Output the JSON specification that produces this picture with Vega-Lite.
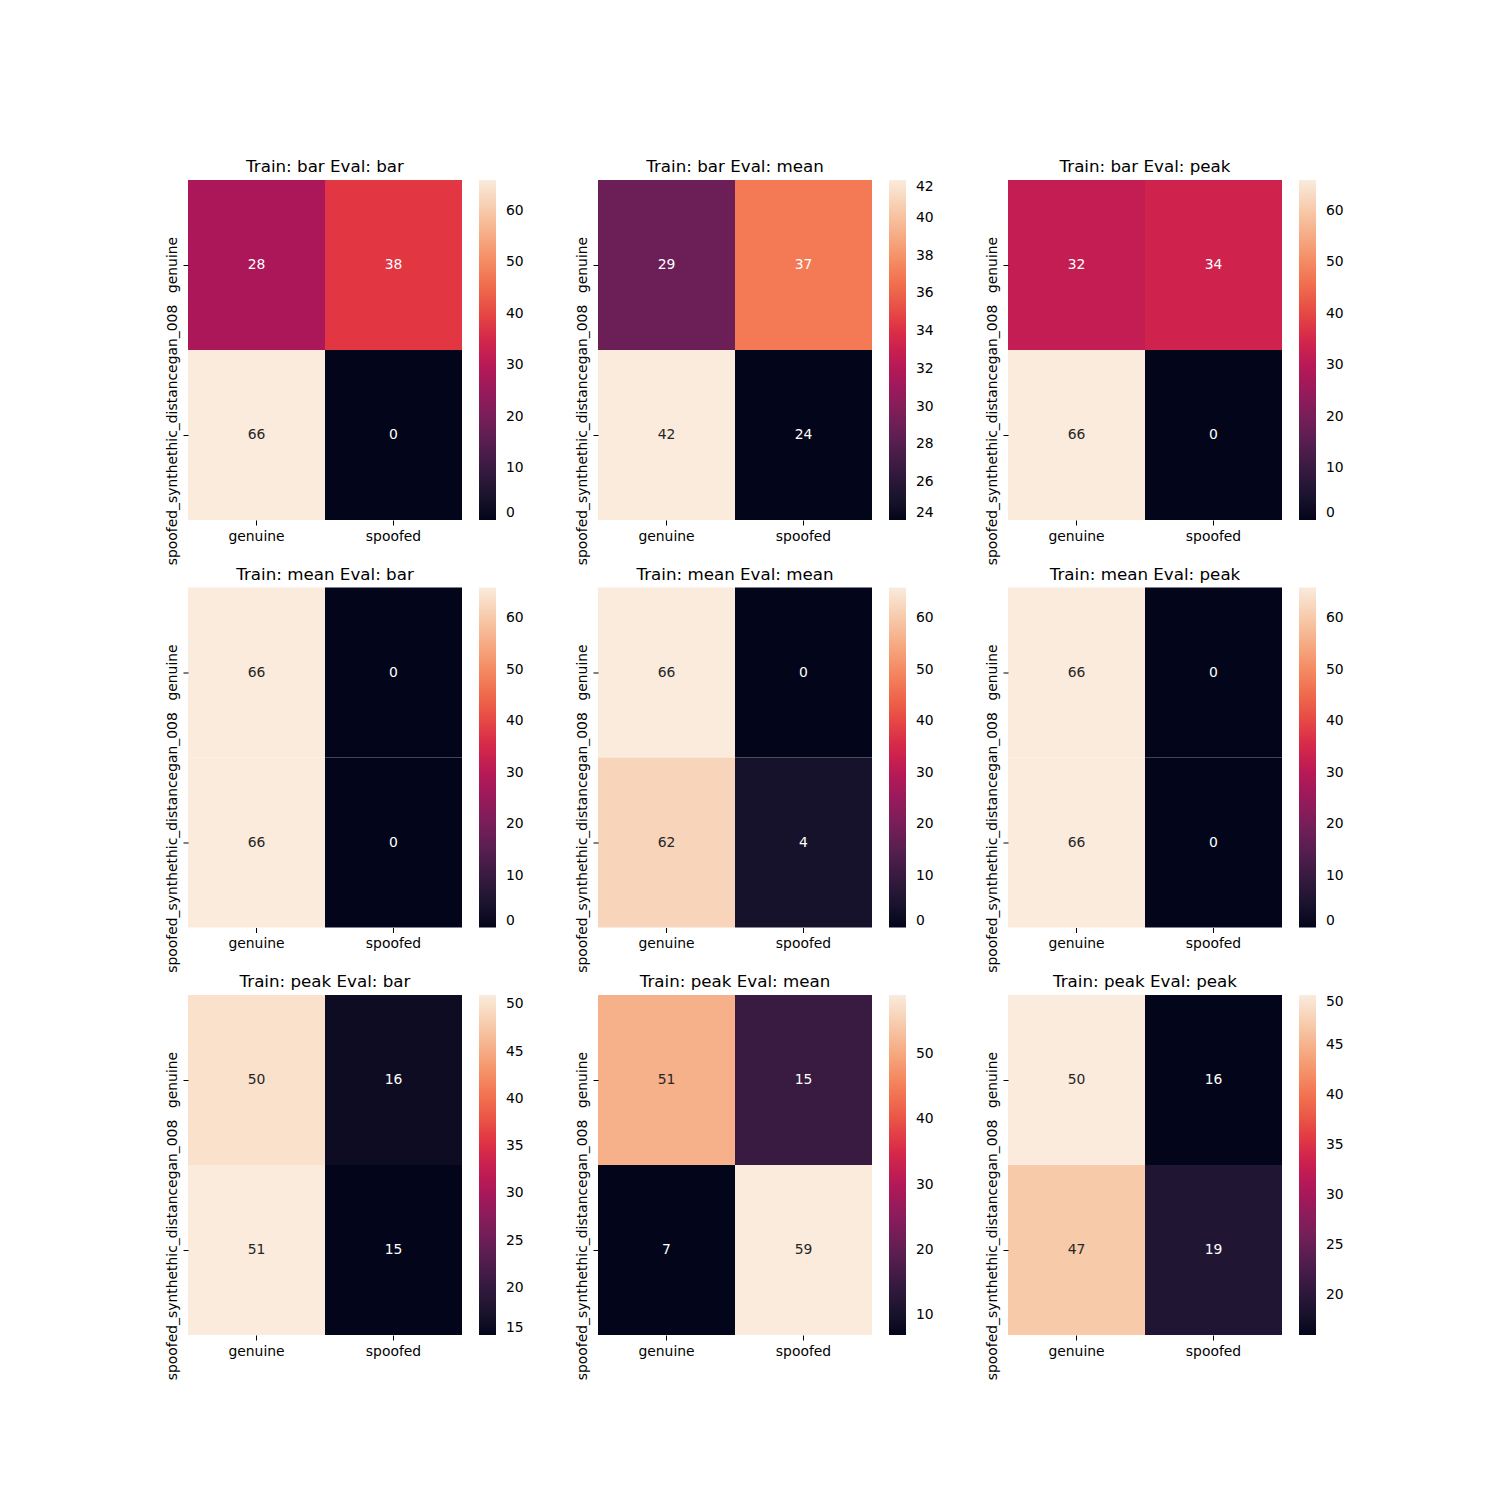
{
  "$schema": "https://vega.github.io/schema/vega-lite/v6.json",
  "background": "white",
  "padding": {"left": 164, "top": 159, "right": 5, "bottom": 5},
  "config": {
    "view": {"stroke": null},
    "font": "DejaVu Sans",
    "title": {"font": "DejaVu Sans", "fontSize": 16.7, "fontWeight": "normal", "color": "#000000", "offset": 4},
    "axis": {"labelFont": "DejaVu Sans", "labelFontSize": 13.9, "labelColor": "#000000", "tickColor": "#000000", "tickSize": 5, "tickWidth": 1, "domain": false, "grid": false, "labelPadding": 4, "title": null, "labelLimit": 500},
    "legend": {"labelFont": "DejaVu Sans", "labelFontSize": 13.9, "labelColor": "#000000", "gradientLength": 340, "gradientThickness": 17, "gradientStrokeWidth": 0, "offset": 17, "labelOverlap": false, "labelBaseline": "middle", "padding": 0},
    "text": {"font": "DejaVu Sans", "fontSize": 13.9}
  },
  "datasets": {
    "cm": [
      {"train": "bar", "eval": "bar", "actual": "genuine", "pred": "genuine", "v": 28},
      {"train": "bar", "eval": "bar", "actual": "genuine", "pred": "spoofed", "v": 38},
      {"train": "bar", "eval": "bar", "actual": "spoofed_synthethic_distancegan_008", "pred": "genuine", "v": 66},
      {"train": "bar", "eval": "bar", "actual": "spoofed_synthethic_distancegan_008", "pred": "spoofed", "v": 0},
      {"train": "bar", "eval": "mean", "actual": "genuine", "pred": "genuine", "v": 29},
      {"train": "bar", "eval": "mean", "actual": "genuine", "pred": "spoofed", "v": 37},
      {"train": "bar", "eval": "mean", "actual": "spoofed_synthethic_distancegan_008", "pred": "genuine", "v": 42},
      {"train": "bar", "eval": "mean", "actual": "spoofed_synthethic_distancegan_008", "pred": "spoofed", "v": 24},
      {"train": "bar", "eval": "peak", "actual": "genuine", "pred": "genuine", "v": 32},
      {"train": "bar", "eval": "peak", "actual": "genuine", "pred": "spoofed", "v": 34},
      {"train": "bar", "eval": "peak", "actual": "spoofed_synthethic_distancegan_008", "pred": "genuine", "v": 66},
      {"train": "bar", "eval": "peak", "actual": "spoofed_synthethic_distancegan_008", "pred": "spoofed", "v": 0},
      {"train": "mean", "eval": "bar", "actual": "genuine", "pred": "genuine", "v": 66},
      {"train": "mean", "eval": "bar", "actual": "genuine", "pred": "spoofed", "v": 0},
      {"train": "mean", "eval": "bar", "actual": "spoofed_synthethic_distancegan_008", "pred": "genuine", "v": 66},
      {"train": "mean", "eval": "bar", "actual": "spoofed_synthethic_distancegan_008", "pred": "spoofed", "v": 0},
      {"train": "mean", "eval": "mean", "actual": "genuine", "pred": "genuine", "v": 66},
      {"train": "mean", "eval": "mean", "actual": "genuine", "pred": "spoofed", "v": 0},
      {"train": "mean", "eval": "mean", "actual": "spoofed_synthethic_distancegan_008", "pred": "genuine", "v": 62},
      {"train": "mean", "eval": "mean", "actual": "spoofed_synthethic_distancegan_008", "pred": "spoofed", "v": 4},
      {"train": "mean", "eval": "peak", "actual": "genuine", "pred": "genuine", "v": 66},
      {"train": "mean", "eval": "peak", "actual": "genuine", "pred": "spoofed", "v": 0},
      {"train": "mean", "eval": "peak", "actual": "spoofed_synthethic_distancegan_008", "pred": "genuine", "v": 66},
      {"train": "mean", "eval": "peak", "actual": "spoofed_synthethic_distancegan_008", "pred": "spoofed", "v": 0},
      {"train": "peak", "eval": "bar", "actual": "genuine", "pred": "genuine", "v": 50},
      {"train": "peak", "eval": "bar", "actual": "genuine", "pred": "spoofed", "v": 16},
      {"train": "peak", "eval": "bar", "actual": "spoofed_synthethic_distancegan_008", "pred": "genuine", "v": 51},
      {"train": "peak", "eval": "bar", "actual": "spoofed_synthethic_distancegan_008", "pred": "spoofed", "v": 15},
      {"train": "peak", "eval": "mean", "actual": "genuine", "pred": "genuine", "v": 51},
      {"train": "peak", "eval": "mean", "actual": "genuine", "pred": "spoofed", "v": 15},
      {"train": "peak", "eval": "mean", "actual": "spoofed_synthethic_distancegan_008", "pred": "genuine", "v": 7},
      {"train": "peak", "eval": "mean", "actual": "spoofed_synthethic_distancegan_008", "pred": "spoofed", "v": 59},
      {"train": "peak", "eval": "peak", "actual": "genuine", "pred": "genuine", "v": 50},
      {"train": "peak", "eval": "peak", "actual": "genuine", "pred": "spoofed", "v": 16},
      {"train": "peak", "eval": "peak", "actual": "spoofed_synthethic_distancegan_008", "pred": "genuine", "v": 47},
      {"train": "peak", "eval": "peak", "actual": "spoofed_synthethic_distancegan_008", "pred": "spoofed", "v": 19}
    ]
  },
  "columns": 3,
  "spacing": {"row": 67.5, "column": 136},
  "bounds": "flush",
  "resolve": {"scale": {"color": "independent", "x": "independent", "y": "independent"}, "legend": {"color": "independent"}},
  "concat": [
    {
      "title": "Train: bar Eval: bar", "width": 274, "height": 340,
      "data": {"name": "cm"}, "transform": [{"filter": "datum.train === 'bar' && datum.eval === 'bar'"}],
      "encoding": {
        "x": {"field": "pred", "type": "nominal", "sort": ["genuine", "spoofed"], "axis": {"labelAngle": 0}},
        "y": {"field": "actual", "type": "nominal", "sort": ["genuine", "spoofed_synthethic_distancegan_008"], "axis": {"labelAngle": 270}}
      },
      "layer": [
        {"mark": {"type": "rect", "strokeWidth": 0}, "encoding": {"color": {"field": "v", "type": "quantitative", "scale": {"domain": [0, 9.4286, 18.857, 28.286, 37.714, 47.143, 56.571, 66], "range": ["#03051a", "#35193e", "#701f57", "#ad1759", "#e13342", "#f37651", "#f6b48f", "#faebdd"], "zero": false, "nice": false}, "legend": {"title": null, "labelOffset": 10, "values": [0, 10, 20, 30, 40, 50, 60]}}}},
        {"mark": {"type": "text"}, "encoding": {"text": {"field": "v", "type": "quantitative"}, "color": {"condition": {"test": "datum.v >= 60", "value": "#262626"}, "value": "#ffffff"}}}
      ]
    },
    {
      "title": "Train: bar Eval: mean", "width": 274, "height": 340,
      "data": {"name": "cm"}, "transform": [{"filter": "datum.train === 'bar' && datum.eval === 'mean'"}],
      "encoding": {
        "x": {"field": "pred", "type": "nominal", "sort": ["genuine", "spoofed"], "axis": {"labelAngle": 0}},
        "y": {"field": "actual", "type": "nominal", "sort": ["genuine", "spoofed_synthethic_distancegan_008"], "axis": {"labelAngle": 270}}
      },
      "layer": [
        {"mark": {"type": "rect", "strokeWidth": 0}, "encoding": {"color": {"field": "v", "type": "quantitative", "scale": {"domain": [24, 26.571, 29.143, 31.714, 34.286, 36.857, 39.429, 42], "range": ["#03051a", "#35193e", "#701f57", "#ad1759", "#e13342", "#f37651", "#f6b48f", "#faebdd"], "zero": false, "nice": false}, "legend": {"title": null, "labelOffset": 10, "values": [24, 26, 28, 30, 32, 34, 36, 38, 40, 42]}}}},
        {"mark": {"type": "text"}, "encoding": {"text": {"field": "v", "type": "quantitative"}, "color": {"condition": {"test": "datum.v >= 40", "value": "#262626"}, "value": "#ffffff"}}}
      ]
    },
    {
      "title": "Train: bar Eval: peak", "width": 274, "height": 340,
      "data": {"name": "cm"}, "transform": [{"filter": "datum.train === 'bar' && datum.eval === 'peak'"}],
      "encoding": {
        "x": {"field": "pred", "type": "nominal", "sort": ["genuine", "spoofed"], "axis": {"labelAngle": 0}},
        "y": {"field": "actual", "type": "nominal", "sort": ["genuine", "spoofed_synthethic_distancegan_008"], "axis": {"labelAngle": 270}}
      },
      "layer": [
        {"mark": {"type": "rect", "strokeWidth": 0}, "encoding": {"color": {"field": "v", "type": "quantitative", "scale": {"domain": [0, 9.4286, 18.857, 28.286, 37.714, 47.143, 56.571, 66], "range": ["#03051a", "#35193e", "#701f57", "#ad1759", "#e13342", "#f37651", "#f6b48f", "#faebdd"], "zero": false, "nice": false}, "legend": {"title": null, "labelOffset": 10, "values": [0, 10, 20, 30, 40, 50, 60]}}}},
        {"mark": {"type": "text"}, "encoding": {"text": {"field": "v", "type": "quantitative"}, "color": {"condition": {"test": "datum.v >= 60", "value": "#262626"}, "value": "#ffffff"}}}
      ]
    },
    {
      "title": "Train: mean Eval: bar", "width": 274, "height": 340,
      "data": {"name": "cm"}, "transform": [{"filter": "datum.train === 'mean' && datum.eval === 'bar'"}],
      "encoding": {
        "x": {"field": "pred", "type": "nominal", "sort": ["genuine", "spoofed"], "axis": {"labelAngle": 0}},
        "y": {"field": "actual", "type": "nominal", "sort": ["genuine", "spoofed_synthethic_distancegan_008"], "axis": {"labelAngle": 270}}
      },
      "layer": [
        {"mark": {"type": "rect", "strokeWidth": 0}, "encoding": {"color": {"field": "v", "type": "quantitative", "scale": {"domain": [0, 9.4286, 18.857, 28.286, 37.714, 47.143, 56.571, 66], "range": ["#03051a", "#35193e", "#701f57", "#ad1759", "#e13342", "#f37651", "#f6b48f", "#faebdd"], "zero": false, "nice": false}, "legend": {"title": null, "labelOffset": 10, "values": [0, 10, 20, 30, 40, 50, 60]}}}},
        {"mark": {"type": "text"}, "encoding": {"text": {"field": "v", "type": "quantitative"}, "color": {"condition": {"test": "datum.v >= 60", "value": "#262626"}, "value": "#ffffff"}}}
      ]
    },
    {
      "title": "Train: mean Eval: mean", "width": 274, "height": 340,
      "data": {"name": "cm"}, "transform": [{"filter": "datum.train === 'mean' && datum.eval === 'mean'"}],
      "encoding": {
        "x": {"field": "pred", "type": "nominal", "sort": ["genuine", "spoofed"], "axis": {"labelAngle": 0}},
        "y": {"field": "actual", "type": "nominal", "sort": ["genuine", "spoofed_synthethic_distancegan_008"], "axis": {"labelAngle": 270}}
      },
      "layer": [
        {"mark": {"type": "rect", "strokeWidth": 0}, "encoding": {"color": {"field": "v", "type": "quantitative", "scale": {"domain": [0, 9.4286, 18.857, 28.286, 37.714, 47.143, 56.571, 66], "range": ["#03051a", "#35193e", "#701f57", "#ad1759", "#e13342", "#f37651", "#f6b48f", "#faebdd"], "zero": false, "nice": false}, "legend": {"title": null, "labelOffset": 10, "values": [0, 10, 20, 30, 40, 50, 60]}}}},
        {"mark": {"type": "text"}, "encoding": {"text": {"field": "v", "type": "quantitative"}, "color": {"condition": {"test": "datum.v >= 60", "value": "#262626"}, "value": "#ffffff"}}}
      ]
    },
    {
      "title": "Train: mean Eval: peak", "width": 274, "height": 340,
      "data": {"name": "cm"}, "transform": [{"filter": "datum.train === 'mean' && datum.eval === 'peak'"}],
      "encoding": {
        "x": {"field": "pred", "type": "nominal", "sort": ["genuine", "spoofed"], "axis": {"labelAngle": 0}},
        "y": {"field": "actual", "type": "nominal", "sort": ["genuine", "spoofed_synthethic_distancegan_008"], "axis": {"labelAngle": 270}}
      },
      "layer": [
        {"mark": {"type": "rect", "strokeWidth": 0}, "encoding": {"color": {"field": "v", "type": "quantitative", "scale": {"domain": [0, 9.4286, 18.857, 28.286, 37.714, 47.143, 56.571, 66], "range": ["#03051a", "#35193e", "#701f57", "#ad1759", "#e13342", "#f37651", "#f6b48f", "#faebdd"], "zero": false, "nice": false}, "legend": {"title": null, "labelOffset": 10, "values": [0, 10, 20, 30, 40, 50, 60]}}}},
        {"mark": {"type": "text"}, "encoding": {"text": {"field": "v", "type": "quantitative"}, "color": {"condition": {"test": "datum.v >= 60", "value": "#262626"}, "value": "#ffffff"}}}
      ]
    },
    {
      "title": "Train: peak Eval: bar", "width": 274, "height": 340,
      "data": {"name": "cm"}, "transform": [{"filter": "datum.train === 'peak' && datum.eval === 'bar'"}],
      "encoding": {
        "x": {"field": "pred", "type": "nominal", "sort": ["genuine", "spoofed"], "axis": {"labelAngle": 0}},
        "y": {"field": "actual", "type": "nominal", "sort": ["genuine", "spoofed_synthethic_distancegan_008"], "axis": {"labelAngle": 270}}
      },
      "layer": [
        {"mark": {"type": "rect", "strokeWidth": 0}, "encoding": {"color": {"field": "v", "type": "quantitative", "scale": {"domain": [15, 20.143, 25.286, 30.429, 35.571, 40.714, 45.857, 51], "range": ["#03051a", "#35193e", "#701f57", "#ad1759", "#e13342", "#f37651", "#f6b48f", "#faebdd"], "zero": false, "nice": false}, "legend": {"title": null, "labelOffset": 10, "values": [15, 20, 25, 30, 35, 40, 45, 50]}}}},
        {"mark": {"type": "text"}, "encoding": {"text": {"field": "v", "type": "quantitative"}, "color": {"condition": {"test": "datum.v >= 45", "value": "#262626"}, "value": "#ffffff"}}}
      ]
    },
    {
      "title": "Train: peak Eval: mean", "width": 274, "height": 340,
      "data": {"name": "cm"}, "transform": [{"filter": "datum.train === 'peak' && datum.eval === 'mean'"}],
      "encoding": {
        "x": {"field": "pred", "type": "nominal", "sort": ["genuine", "spoofed"], "axis": {"labelAngle": 0}},
        "y": {"field": "actual", "type": "nominal", "sort": ["genuine", "spoofed_synthethic_distancegan_008"], "axis": {"labelAngle": 270}}
      },
      "layer": [
        {"mark": {"type": "rect", "strokeWidth": 0}, "encoding": {"color": {"field": "v", "type": "quantitative", "scale": {"domain": [7, 14.429, 21.857, 29.286, 36.714, 44.143, 51.571, 59], "range": ["#03051a", "#35193e", "#701f57", "#ad1759", "#e13342", "#f37651", "#f6b48f", "#faebdd"], "zero": false, "nice": false}, "legend": {"title": null, "labelOffset": 10, "values": [10, 20, 30, 40, 50]}}}},
        {"mark": {"type": "text"}, "encoding": {"text": {"field": "v", "type": "quantitative"}, "color": {"condition": {"test": "datum.v >= 50", "value": "#262626"}, "value": "#ffffff"}}}
      ]
    },
    {
      "title": "Train: peak Eval: peak", "width": 274, "height": 340,
      "data": {"name": "cm"}, "transform": [{"filter": "datum.train === 'peak' && datum.eval === 'peak'"}],
      "encoding": {
        "x": {"field": "pred", "type": "nominal", "sort": ["genuine", "spoofed"], "axis": {"labelAngle": 0}},
        "y": {"field": "actual", "type": "nominal", "sort": ["genuine", "spoofed_synthethic_distancegan_008"], "axis": {"labelAngle": 270}}
      },
      "layer": [
        {"mark": {"type": "rect", "strokeWidth": 0}, "encoding": {"color": {"field": "v", "type": "quantitative", "scale": {"domain": [16, 20.857, 25.714, 30.571, 35.429, 40.286, 45.143, 50], "range": ["#03051a", "#35193e", "#701f57", "#ad1759", "#e13342", "#f37651", "#f6b48f", "#faebdd"], "zero": false, "nice": false}, "legend": {"title": null, "labelOffset": 10, "values": [20, 25, 30, 35, 40, 45, 50]}}}},
        {"mark": {"type": "text"}, "encoding": {"text": {"field": "v", "type": "quantitative"}, "color": {"condition": {"test": "datum.v >= 45", "value": "#262626"}, "value": "#ffffff"}}}
      ]
    }
  ]
}
